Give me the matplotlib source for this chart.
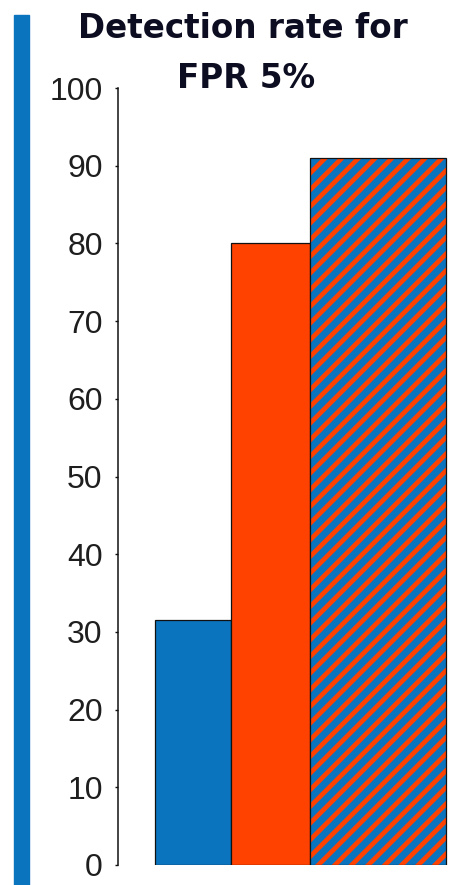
import matplotlib
matplotlib.use("Agg")
import matplotlib.pyplot as plt
from matplotlib.patches import Rectangle

plt.rcParams['font.family'] = ['Liberation Sans', 'DejaVu Sans']
plt.rcParams['hatch.linewidth'] = 3.4

# Data
methods = ["Baseline", "Method A", "Method A + B"]
detection_rate = [31.5, 80.0, 91.0]
y_ticks = [0, 10, 20, 30, 40, 50, 60, 70, 80, 90, 100]
title_lines = ["Detection rate for", "FPR 5%"]

# Styling / layout
bar_left = [0.37, 1.13, 1.92]
bar_width = [0.76, 0.79, 1.36]
blue = "#0B74BE"
orange = "#FF4200"

W, H = 460, 885
fig = plt.figure(figsize=(W / 100, H / 100), dpi=100)
fig.patch.set_facecolor("white")

ax = fig.add_axes([118 / W, (H - 865) / H, (450 - 118) / W, (865 - 88) / H])

# Solid bars
ax.bar(bar_left[:2], detection_rate[:2], width=bar_width[:2], align="edge",
       color=[blue, orange], edgecolor="#111111", linewidth=0.9, zorder=2)
# Hatched bar: blue fill with orange diagonal stripes, then black outline
ax.bar(bar_left[2], detection_rate[2], width=bar_width[2], align="edge",
       color=blue, edgecolor=orange, hatch="//", linewidth=0, zorder=2)
ax.bar(bar_left[2], detection_rate[2], width=bar_width[2], align="edge",
       fill=False, edgecolor="#111111", linewidth=0.9, zorder=3)

ax.set_xlim(0, 3.32)
ax.set_ylim(0, 100)
ax.set_yticks(y_ticks)
ax.set_xticks([])
ax.tick_params(axis="y", direction="out", length=2.5, width=1.0, pad=8.5,
               labelsize=23, labelcolor="#1e1e1e", color="#111111")
for s in ("top", "right", "bottom"):
    ax.spines[s].set_visible(False)
ax.spines["left"].set_linewidth(1.1)
ax.spines["left"].set_color("#111111")
ax.set_facecolor("none")

# Blue accent bar on the left edge
fig.patches.append(Rectangle((14 / W, 0), 15 / W, (H - 15) / H,
                             transform=fig.transFigure, color=blue,
                             zorder=0))

# Title
fig.text(243 / W, 1 - 38.5 / H, title_lines[0], ha="center", va="baseline",
         fontsize=23.5, fontweight="bold", color="#0d0d22",
         family="DejaVu Sans")
fig.text(246 / W, 1 - 87.5 / H, title_lines[1], ha="center", va="baseline",
         fontsize=23.5, fontweight="bold", color="#0d0d22",
         family="DejaVu Sans")

fig.savefig("out.png", dpi=100, facecolor="white")
